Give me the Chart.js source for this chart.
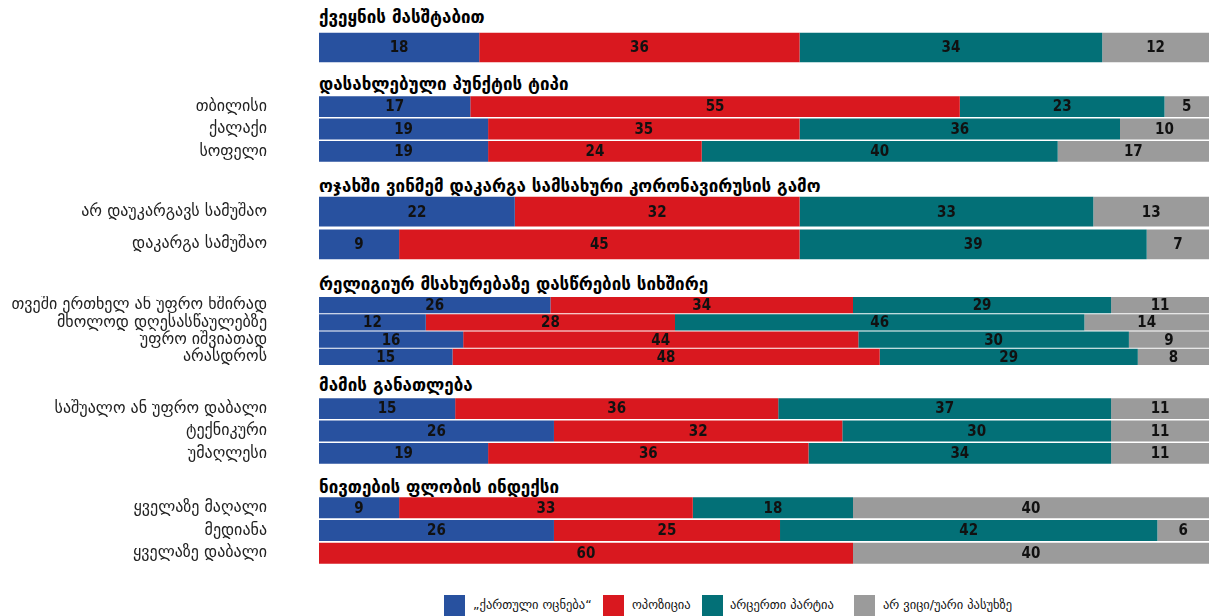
<!DOCTYPE html>
<html>
<head>
<meta charset="utf-8">
<script src="https://cdn.jsdelivr.net/npm/chart.js@4/dist/chart.umd.min.js"></script>
<style>
  body { margin: 0; width: 1209px; height: 616px; overflow: hidden; background: #fff;
         font-family: "DejaVu Sans", sans-serif; }
  .box { position: absolute; left: 0; line-height: 0; }
  .title { position: absolute; left: 319px; font-weight: bold; font-size: 17px; line-height: 20px;
           color: #000; white-space: nowrap; }
  .sq { position: absolute; top: 595px; width: 21px; height: 21px; }
  .lt { position: absolute; top: 597px; font-size: 12.5px; line-height: 16px; color: #111; white-space: nowrap; }
</style>
</head>
<body>
<script>
// სერიები (ლეგენდა)
const seriesNames = ["„ქართული ოცნება“", "ოპოზიცია", "არცერთი პარტია", "არ ვიცი/უარი პასუხზე"];

// ჯგუფების სათაურები
const groupTitles = [
  "ქვეყნის მასშტაბით",
  "დასახლებული პუნქტის ტიპი",
  "ოჯახში ვინმემ დაკარგა სამსახური კორონავირუსის გამო",
  "რელიგიურ მსახურებაზე დასწრების სიხშირე",
  "მამის განათლება",
  "ნივთების ფლობის ინდექსი"
];

// სტრიქონები და მათი ჯგუფი
const rowLabels = [
  "",
  "თბილისი", "ქალაქი", "სოფელი",
  "არ დაუკარგავს სამუშაო", "დაკარგა სამუშაო",
  "თვეში ერთხელ ან უფრო ხშირად", "მხოლოდ დღესასწაულებზე", "უფრო იშვიათად", "არასდროს",
  "საშუალო ან უფრო დაბალი", "ტექნიკური", "უმაღლესი",
  "ყველაზე მაღალი", "მედიანა", "ყველაზე დაბალი"
];
const rowGroup = [0, 1, 1, 1, 2, 2, 3, 3, 3, 3, 4, 4, 4, 5, 5, 5];

// მნიშვნელობები (%)
const georgianDream = [18, 17, 19, 19, 22, 9, 26, 12, 16.2, 15, 15.3, 26.4, 19, 9, 26.4, 0];
const opposition    = [36, 55, 35, 24, 32, 45, 34, 28, 44.4, 48, 36.3, 32.4, 36, 33, 25.4, 60];
const noParty       = [34, 23, 36, 40, 33, 39, 29, 46, 30.4, 29, 37.4, 30.2, 34, 18, 42.4, 0];
const dontKnow      = [12, 5, 10, 17, 13, 7, 11, 14, 9, 8, 11, 11, 11, 40, 5.8, 40];

const colors = ["#28519f", "#d9181f", "#037077", "#9b9b9b"];
const series = [georgianDream, opposition, noParty, dontKnow];

// თითოეული ჯგუფის ადგილი გვერდზე
const boxes = [
  { title: 7,   top: 31,  h: 33, bar: 0.91 },
  { title: 74,  top: 95,  h: 68, bar: 0.93 },
  { title: 176, top: 195, h: 66, bar: 0.91 },
  { title: 274, top: 296, h: 70, bar: 0.94 },
  { title: 375, top: 397, h: 68, bar: 0.93 },
  { title: 477, top: 496, h: 69, bar: 0.93 }
];

const valueLabels = {
  id: "valueLabels",
  afterDatasetsDraw(chart) {
    const ctx = chart.ctx;
    ctx.save();
    ctx.font = 'bold 15px "DejaVu Sans Condensed"';
    ctx.fillStyle = "#111";
    ctx.textAlign = "center";
    ctx.textBaseline = "middle";
    chart.data.datasets.forEach((ds, i) => {
      chart.getDatasetMeta(i).data.forEach((bar, j) => {
        const v = ds.data[j];
        if (!v) return;
        ctx.fillText(Math.round(v), (bar.x + bar.base) / 2, bar.y + 1);
      });
    });
    ctx.restore();
  }
};

boxes.forEach((b, g) => {
  const t = document.createElement("div");
  t.className = "title";
  t.style.top = b.title + "px";
  t.textContent = groupTitles[g];
  document.body.appendChild(t);

  const idx = rowGroup.map((v, i) => v === g ? i : -1).filter(i => i >= 0);
  const wrap = document.createElement("div");
  wrap.className = "box";
  wrap.style.top = b.top + "px";
  const cv = document.createElement("canvas");
  cv.width = 1209; cv.height = b.h;
  cv.style.display = "block";
  wrap.appendChild(cv);
  document.body.appendChild(wrap);

  new Chart(cv.getContext("2d"), {
    type: "bar",
    data: {
      labels: idx.map(i => rowLabels[i]),
      datasets: series.map((s, k) => ({
        label: seriesNames[k],
        data: idx.map(i => s[i]),
        backgroundColor: colors[k],
        borderWidth: 0,
        barPercentage: b.bar,
        categoryPercentage: 1
      }))
    },
    options: {
      indexAxis: "y",
      responsive: false,
      animation: false,
      devicePixelRatio: 1,
      layout: { padding: 0 },
      plugins: { legend: { display: false }, tooltip: { enabled: false } },
      scales: {
        x: { stacked: true, min: 0, max: 100, display: false },
        y: {
          stacked: true,
          grid: { display: false, drawTicks: true, tickLength: 52 },
          border: { display: false },
          ticks: { padding: 0, autoSkip: false, color: "#222",
                   font: { family: "DejaVu Sans", size: 16, lineHeight: 0.05 } },
          afterFit: s => { s.width = 319; }
        }
      }
    },
    plugins: [valueLabels]
  });
});

// ლეგენდა
const legendPos = [[444, 473], [603, 632], [702, 730], [854, 883]];
seriesNames.forEach((n, k) => {
  const sq = document.createElement("div");
  sq.className = "sq";
  sq.style.left = legendPos[k][0] + "px";
  sq.style.background = colors[k];
  document.body.appendChild(sq);
  const tx = document.createElement("div");
  tx.className = "lt";
  tx.style.left = legendPos[k][1] + "px";
  tx.textContent = n;
  document.body.appendChild(tx);
});
</script>
</body>
</html>
